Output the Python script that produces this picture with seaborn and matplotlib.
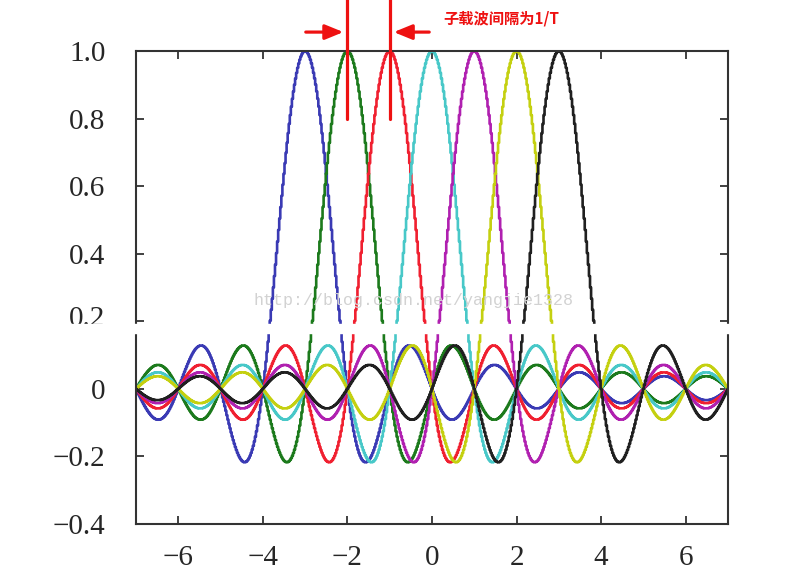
import numpy as np
import pandas as pd
import seaborn as sns
import matplotlib.pyplot as plt
from matplotlib.patches import Rectangle

# subcarrier centre frequencies (in units of 1/T) and their colours
centers = [-3, -2, -1, 0, 1, 2, 3]
colors = ['#3a3ab4', '#1c7a1c', '#f02030', '#48c8c8', '#b020b0', '#c4d010', '#202020']
x_ticks = [-6, -4, -2, 0, 2, 4, 6]
y_ticks = [-0.4, -0.2, 0, 0.2, 0.4, 0.6, 0.8, 1.0]
y_labels = ['\u22120.4', '\u22120.2', '0', '0.2', '0.4', '0.6', '0.8', '1.0']
spacing_marks = [-2, -1]
note = '子载波间隔为1/T'
watermark = 'http://blog.csdn.net/yangjie1328'

sns.set_style("ticks")
plt.rcParams['font.family'] = ['Liberation Serif', 'DejaVu Serif']

# each subcarrier spectrum is a sinc pulse centred on its frequency
f = np.arange(-7, 7.0001, 0.025)
frames = []
for c in centers:
    frames.append(pd.DataFrame({'f': f, 'amp': np.sinc(f - c), 'carrier': str(c)}))
df = pd.concat(frames, ignore_index=True)

fig = plt.figure(figsize=(8.06, 5.79), dpi=100)
ax = fig.add_axes([0.1687, 0.0950, 0.7345, 0.8169])
sns.lineplot(data=df, x='f', y='amp', hue='carrier', palette=colors,
             legend=False, linewidth=1.9, drawstyle='steps-mid', ax=ax)

ax.set_xlim(-7, 7)
ax.set_ylim(-0.4, 1.0)
ax.set_xticks(x_ticks)
ax.set_xticklabels(['\u2212%d' % -t if t < 0 else '%d' % t for t in x_ticks])
ax.set_yticks(y_ticks)
# the 0.2 label sits a little higher in the original, drawn separately below
ax.set_yticklabels([l if l != '0.2' else '' for l in y_labels])
ax.set_xlabel('')
ax.set_ylabel('')
ax.tick_params(direction='in', top=True, right=True, length=6, width=1.3,
               labelsize=21, color='#333333')
ax.tick_params(axis='y', pad=22)
ax.tick_params(axis='x', pad=15)
for s in ax.spines.values():
    s.set_linewidth(1.5)
    s.set_color('#333333')

ax.annotate('0.2', xy=(0, 0.2), xycoords=('axes fraction', 'data'),
            xytext=(-22, 3.5), textcoords='offset points',
            ha='right', va='center_baseline', fontsize=21, color='#262626')

# red annotation: subcarrier spacing
for m in spacing_marks:
    ax.plot([m, m], [0.8, 1.155], color='#ee1111', lw=2.3, clip_on=False, zorder=5)
head = '-|>,head_length=1.1,head_width=0.45'
ax.annotate('', xy=(-2.03, 1.056), xytext=(-3.05, 1.056),
            arrowprops=dict(arrowstyle=head, color='#ee1111', lw=2.3),
            annotation_clip=False)
ax.annotate('', xy=(-0.97, 1.056), xytext=(0.0, 1.056),
            arrowprops=dict(arrowstyle=head, color='#ee1111', lw=2.3),
            annotation_clip=False)
ax.text(0.28, 1.095, note, color='#ee1111', fontsize=11, fontweight='bold',
        family=['Noto Sans CJK SC', 'DejaVu Sans'], va='center', ha='left')

ax.text(-0.44, 0.262, watermark, color='#d2d2d2', fontsize=12,
        family=['Liberation Mono'], ha='center', va='center', zorder=6)

# white band where the original picture was spliced
fig.add_artist(Rectangle((0.07, 1 - 333 / 579), 0.85, 9 / 579,
                         transform=fig.transFigure, color='white', zorder=10))

fig.savefig('out.png', dpi=100)
